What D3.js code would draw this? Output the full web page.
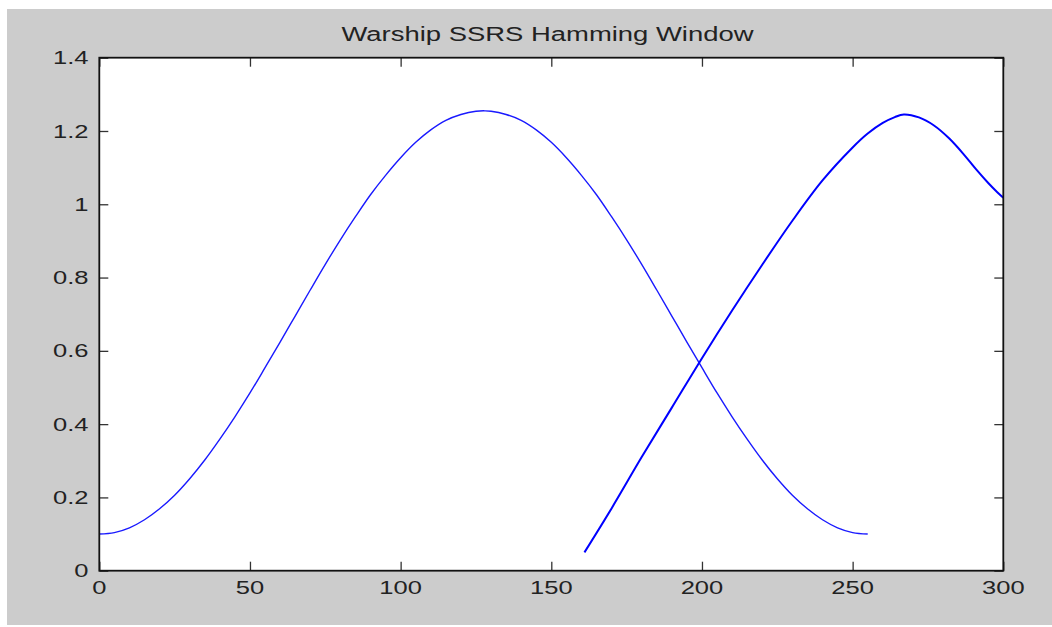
<!DOCTYPE html>
<html><head><meta charset="utf-8">
<script src="https://cdn.jsdelivr.net/npm/d3@7"></script>
<style>html,body{margin:0;padding:0;background:#fff;}svg{display:block;}</style>
</head><body>
<svg id="c" width="1052" height="627"></svg>
<script>
const title = "Warship SSRS Hamming Window";
const xTicks = [0, 50, 100, 150, 200, 250, 300];
const yTicks = [0, 0.2, 0.4, 0.6, 0.8, 1, 1.2, 1.4];
const yTickLabels = ["0", "0.2", "0.4", "0.6", "0.8", "1", "1.2", "1.4"];

// Series 1: Hamming-shaped window
const win1X = [0,5,10,15,20,25,30,35,40,45,50,55,60,65,70,75,80,85,90,95,100,105,110,115,120,125,128,130,135,140,145,150,155,160,165,170,175,180,185,190,195,200,205,210,215,220,225,230,235,240,245,250,255];
const win1Y = [0.100,0.104,0.117,0.139,0.169,0.206,0.251,0.302,0.359,0.420,0.485,0.554,0.624,0.695,0.766,0.836,0.903,0.966,1.026,1.079,1.127,1.169,1.203,1.229,1.245,1.254,1.255,1.254,1.245,1.229,1.203,1.169,1.127,1.079,1.026,0.966,0.903,0.836,0.766,0.695,0.624,0.554,0.485,0.420,0.359,0.302,0.251,0.206,0.169,0.139,0.117,0.104,0.100];

// Series 2: second window segment
const win2X = [161,170,180,190,200,210,220,230,240,250,255,260,264,267,272,277,282,287,291,295,298,300];
const win2Y = [0.050,0.170,0.310,0.445,0.580,0.710,0.835,0.955,1.065,1.155,1.193,1.222,1.238,1.245,1.237,1.215,1.180,1.135,1.095,1.058,1.033,1.018];

const svg = d3.select("#c");
const L = 99.3, R = 1003.3, T = 57.7, B = 570.7;
const STRETCH = 1.38;

svg.append("rect").attr("x", 7).attr("y", 9).attr("width", 1045).attr("height", 616).attr("fill", "#cccccc");
svg.append("rect").attr("x", L).attr("y", T).attr("width", R - L).attr("height", B - T).attr("fill", "#ffffff");

const x = d3.scaleLinear().domain([0, 300]).range([L, R]);
const y = d3.scaleLinear().domain([0, 1.4]).range([B, T]);

function stretch(sel) {
  sel.each(function () {
    const len = this.getComputedTextLength();
    d3.select(this).attr("textLength", len * STRETCH).attr("lengthAdjust", "spacingAndGlyphs");
  });
}

const tickLen = 9;
const font = "'Liberation Sans', Arial, sans-serif";

const axB = svg.append("g").attr("transform", `translate(0,${B})`)
  .call(d3.axisBottom(x).tickValues(xTicks).tickSize(-tickLen).tickFormat(""));
const axT = svg.append("g").attr("transform", `translate(0,${T})`)
  .call(d3.axisTop(x).tickValues(xTicks).tickSize(-tickLen).tickFormat(""));
const axL = svg.append("g").attr("transform", `translate(${L},0)`)
  .call(d3.axisLeft(y).tickValues(yTicks).tickSize(-tickLen).tickFormat(""));
const axR = svg.append("g").attr("transform", `translate(${R},0)`)
  .call(d3.axisRight(y).tickValues(yTicks).tickSize(-tickLen).tickFormat(""));
[axB, axT, axL, axR].forEach(g => {
  g.select(".domain").remove();
  g.selectAll("line").attr("stroke", "#333").attr("stroke-width", 1.3);
});

const line = d3.line().x(d => x(d[0])).y(d => y(d[1])).curve(d3.curveCatmullRom.alpha(0.5));
svg.append("clipPath").attr("id", "pc").append("rect")
  .attr("x", L).attr("y", T).attr("width", R - L).attr("height", B - T);
svg.append("path").datum(win1X.map((v, i) => [v, win1Y[i]]))
  .attr("d", line).attr("fill", "none").attr("stroke", "#1a1aff").attr("stroke-width", 1.4)
  .attr("clip-path", "url(#pc)");
svg.append("path").datum(win2X.map((v, i) => [v, win2Y[i]]))
  .attr("d", line).attr("fill", "none").attr("stroke", "#0000ff").attr("stroke-width", 2)
  .attr("clip-path", "url(#pc)");

svg.append("rect").attr("x", L).attr("y", T).attr("width", R - L).attr("height", B - T)
  .attr("fill", "none").attr("stroke", "#111").attr("stroke-width", 1.8);

svg.append("g").selectAll("text").data(xTicks).join("text")
  .attr("x", d => x(d)).attr("y", 594).attr("text-anchor", "middle")
  .attr("font-family", font).attr("font-size", 18.5).attr("fill", "#222")
  .text(d => String(d)).call(stretch);

svg.append("g").selectAll("text").data(yTicks).join("text")
  .attr("x", 88.5).attr("y", d => y(d) + 6.6).attr("text-anchor", "end")
  .attr("font-family", font).attr("font-size", 18.5).attr("fill", "#222")
  .text((d, i) => yTickLabels[i]).call(stretch);

svg.append("text").attr("x", 547.5).attr("y", 40.7).attr("text-anchor", "middle")
  .attr("font-family", font).attr("font-size", 20).attr("fill", "#222")
  .text(title).attr("textLength", 412).attr("lengthAdjust", "spacingAndGlyphs");
</script>
</body></html>
